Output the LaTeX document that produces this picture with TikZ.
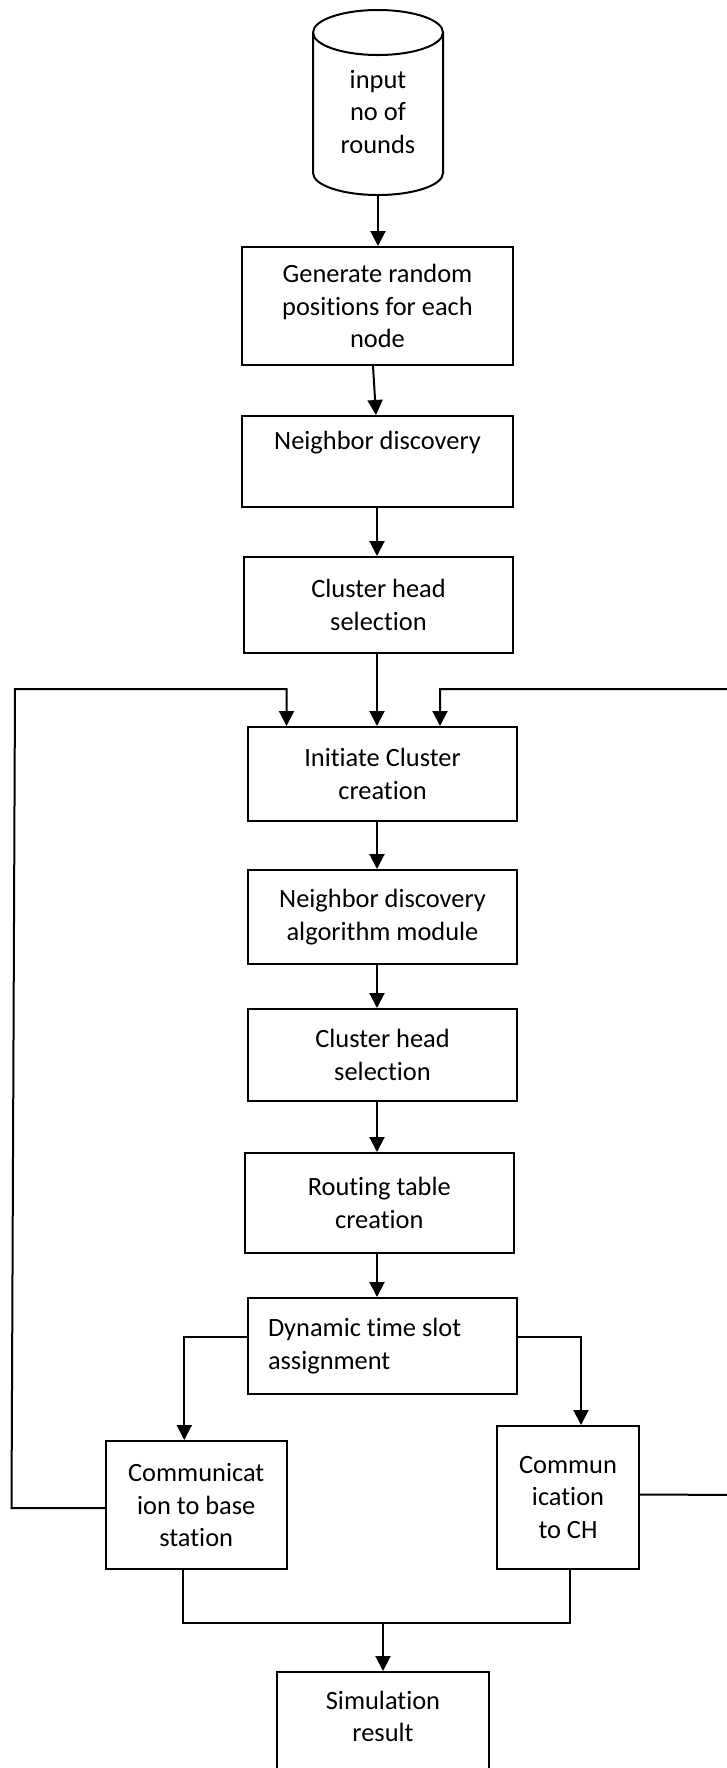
\documentclass[tikz,border=0pt]{standalone}
\usepackage{fontspec}
\setmainfont{Carlito}[Ligatures=NoCommon]
\usetikzlibrary{arrows.meta}
\begin{document}
\begin{tikzpicture}[x=0.5pt,y=-0.5pt,
  every node/.style={font=\fontsize{13.2pt}{16.3pt}\selectfont},
  box/.style={draw, line width=1pt, align=center, inner sep=0pt},
  arr/.style={line width=1pt, -{Triangle[length=7.5pt,width=7.5pt]}},
  link/.style={line width=1pt},
  thin link/.style={line width=0.65pt}]
\useasboundingbox (0,0) rectangle (727,1768);
\begin{scope}
\clip (0,0) rectangle (727,1768);

% input drum
\draw[link] (378,32.5) ellipse [x radius=32.5pt, y radius=11.25pt];
\draw[link] (313,32.5) -- (313,173) arc[start angle=180, end angle=360, x radius=32.5pt, y radius=11pt] -- (443,32.5);
\node[align=center] (inp) at (378,112) {input\\no of\\rounds};
\coordinate (inpb) at (378,195);

% process boxes
\node[box, minimum width=135.5pt, minimum height=59pt] (gen) at (377.5,306) {Generate random\\positions for each\\node};
\node[box, minimum width=135.5pt, minimum height=45.5pt] (nd) at (377.5,461.5) {Neighbor discovery\\\strut};
\node[box, minimum width=134.5pt, minimum height=48pt] (ch1) at (378.5,605) {Cluster head\\selection};
\node[box, minimum width=134.5pt, minimum height=47pt] (init) at (382.5,774) {Initiate Cluster\\creation};
\node[box, minimum width=134.5pt, minimum height=47pt] (ndam) at (382.5,917) {Neighbor discovery\\algorithm module};
\node[box, minimum width=134.5pt, minimum height=46pt] (ch2) at (382.5,1055) {Cluster head\\selection};
\node[box, minimum width=134.7pt, minimum height=50pt] (rt) at (379.3,1203) {Routing table\\creation};
\node[box, minimum width=134.5pt, minimum height=48pt, align=flush left, text width=114.5pt] (dyn) at (382.5,1346) {Dynamic time slot\\assignment};
\node[box, minimum width=90.25pt, minimum height=64pt] (commb) at (196.25,1505) {Communicat\\ion to base\\station};
\node[box, minimum width=71pt, minimum height=71.5pt] (cch) at (568,1497.5) {Commun\\ication\\to CH};
\node[box, minimum width=106pt, minimum height=65pt, anchor=north] (sim) at (383,1671) {};
\node[align=center] (simt) at (383,1716.5) {Simulation\\result};

% main flow
\coordinate (axis) at (377,0);
\draw[arr] (inpb) -- (inpb |- gen.north);
\draw[arr] ([xshift=-2.25pt]gen.south) -- ([xshift=-0.75pt]nd.north);
\draw[arr] (axis |- nd.south) -- (axis |- ch1.north);
\draw[arr] (axis |- ch1.south) -- (axis |- init.north);
\draw[arr] (axis |- init.south) -- (axis |- ndam.north);
\draw[arr] (axis |- ndam.south) -- (axis |- ch2.north);
\draw[arr] (axis |- ch2.south) -- (axis |- rt.north);
\draw[arr] (axis |- rt.south) -- (axis |- dyn.north);

% branches
\draw[arr] ([yshift=4.5pt]dyn.west) -| ([xshift=-6pt]commb.north);
\draw[arr] ([yshift=4.5pt]dyn.east) -| ([xshift=6.5pt]cch.north);

% feedback loops
\coordinate (lbot) at (11.5,1508);
\coordinate (ltop) at (15,689);
\draw[arr] ([yshift=-1.5pt]commb.west) -- (lbot) -- (ltop) -| ([xshift=-48pt]init.north);
\coordinate (rbot) at (745,1495);
\coordinate (rtop) at (745,689);
\draw[arr] ([yshift=1.5pt]cch.east) -- (rbot) -- (rtop) -| ([xshift=28.75pt]init.north);

% merge to result
\coordinate (mrg) at (383,1623);
\draw[thin link] ([xshift=-6.6pt]commb.south) |- (mrg) -| ([xshift=1pt]cch.south);
\draw[arr] (mrg) -- (sim.north);
\end{scope}
\end{tikzpicture}
\end{document}
